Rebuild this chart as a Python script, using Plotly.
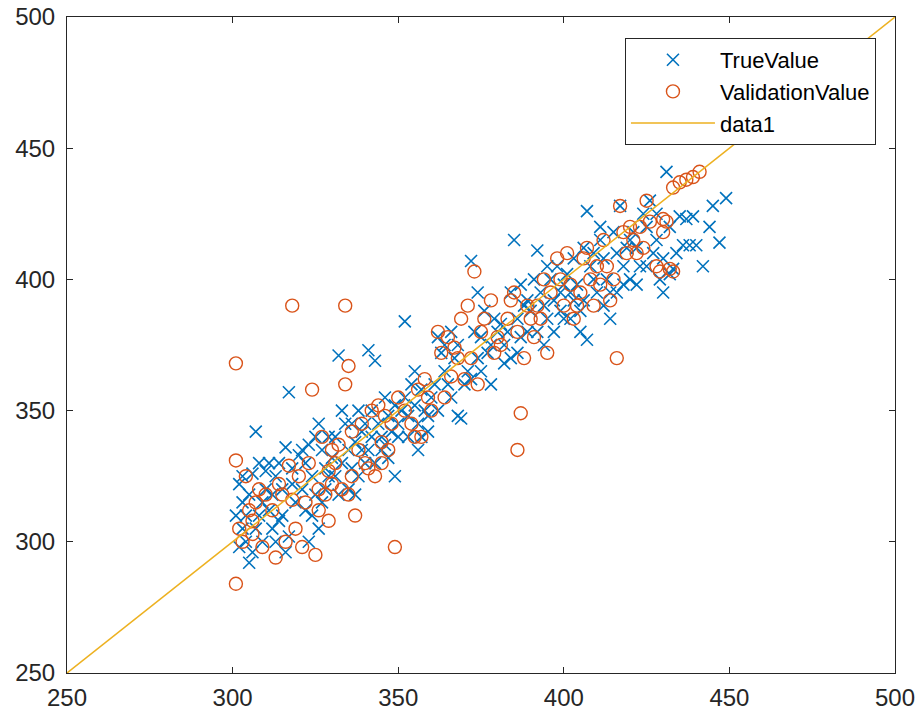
import plotly.graph_objects as go

# TrueValue (crosses)
true_x = [302,303,304,305,302,306,308,307,304,306,305,308,309,310,301,303,307,309,310,303,
          311,312,313,314,315,316,317,312,315,318,319,313,316,317,318,320,311,314,
          321,322,323,324,325,326,327,328,329,322,324,326,328,330,321,325,327,329,323,
          331,332,333,334,335,336,337,338,339,340,331,333,335,337,339,340,332,336,338,
          341,343,342,344,345,346,347,348,349,350,341,343,345,347,349,350,342,346,
          352,351,352,353,354,355,356,357,358,359,360,353,355,357,359,356,
          361,362,363,364,365,366,367,368,369,370,362,364,366,368,
          371,372,373,374,375,376,377,378,379,380,372,375,378,374,
          381,382,383,384,385,386,387,388,389,390,384,386,389,382,387,
          391,392,393,394,395,396,397,398,399,400,392,394,397,399,395,400,
          401,402,403,404,405,406,407,408,409,410,402,405,407,409,403,406,
          411,412,413,414,415,416,417,418,419,420,412,414,416,418,411,420,
          421,422,423,424,425,426,427,428,429,430,422,425,428,430,
          431,432,433,434,435,436,437,438,439,440,445,447,449,442,444,432]
true_y = [298,305,310,318,322,326,330,342,300,296,292,310,315,320,310,315,305,300,327,325,
          312,318,325,330,320,336,357,305,310,328,315,300,296,302,322,333,330,308,
          320,330,337,325,318,345,335,328,340,312,310,305,320,332,335,340,315,325,300,
          340,371,350,345,335,328,338,350,342,345,325,330,320,318,335,330,318,345,325,
          373,369,350,345,340,355,348,342,352,345,335,330,335,332,325,340,340,337,
          384,350,355,348,360,352,345,340,350,342,355,340,365,358,348,335,
          360,378,372,365,360,355,370,348,347,360,350,375,380,375,
          365,407,380,370,378,388,372,375,385,380,362,365,360,395,
          383,375,380,395,415,385,378,390,392,388,370,372,380,368,398,
          400,411,395,390,385,400,392,405,388,398,380,375,380,395,405,385,
          402,395,408,398,388,412,426,405,400,395,385,380,377,410,392,392,
          415,408,400,395,418,410,428,405,412,400,390,385,395,398,420,415,
          418,412,405,425,420,430,410,415,400,395,398,405,425,408,
          441,420,404,410,424,413,423,413,424,413,428,414,431,405,420,402]

# ValidationValue (circles)
val_x = [301,301,302,301,303,305,306,307,308,304,309,310,306,
         318,313,316,319,318,312,315,317,320,321,314,
         325,324,323,326,328,329,330,327,322,329,330,326,
         334,335,334,331,333,335,336,338,339,340,337,332,336,
         349,341,343,345,346,347,348,350,342,344,345,
         352,354,355,356,358,359,360,357,
         362,363,365,366,368,369,370,364,367,
         373,372,374,376,378,380,375,379,371,
         385,387,386,383,384,388,389,390,381,386,
         392,393,394,396,398,399,400,391,395,
         401,402,404,405,406,407,408,410,403,409,
         412,413,414,416,417,418,419,420,415,411,
         421,422,423,425,426,428,429,430,424,
         431,432,433,435,437,439,441,433,430]
val_y = [368,331,305,284,300,312,303,315,320,325,298,318,308,
         390,294,300,305,316,312,318,329,325,298,322,
         295,358,330,320,318,327,335,340,315,308,322,312,
         390,367,360,330,320,318,325,335,345,330,310,337,342,
         298,328,325,338,348,335,345,355,350,352,330,
         350,345,340,358,362,355,350,340,
         380,372,378,363,370,385,362,355,374,
         403,370,360,385,392,378,380,372,390,
         395,349,335,385,392,370,390,385,375,380,
         390,385,400,395,408,400,390,378,372,
         410,398,390,395,408,412,400,405,385,390,
         415,405,392,370,428,418,410,420,400,398,
         415,410,420,430,422,405,403,418,412,
         422,404,435,437,438,439,441,403,423]

line_x = [250, 500]
line_y = [250, 500]

x_ticks = [250, 300, 350, 400, 450, 500]
y_ticks = [250, 300, 350, 400, 450, 500]

FONT = "Liberation Sans, Arial, sans-serif"

fig = go.Figure()
fig.add_trace(go.Scatter(
    x=true_x, y=true_y, mode="markers", name="TrueValue",
    marker=dict(symbol="x-thin-open", size=12, color="#0072BD",
                line=dict(color="#0072BD", width=1.6))))
fig.add_trace(go.Scatter(
    x=val_x, y=val_y, mode="markers", name="ValidationValue",
    marker=dict(symbol="circle-open", size=13, color="#D95319",
                line=dict(color="#D95319", width=1.4))))
fig.add_trace(go.Scatter(
    x=line_x, y=line_y, mode="lines", name="data1",
    line=dict(color="#EDB120", width=1.5)))

axis_common = dict(
    showgrid=False, zeroline=False, showline=True, linecolor="#262626", linewidth=1,
    mirror="ticks", ticks="inside", ticklen=6, tickcolor="#262626", tickwidth=1,
    automargin=False,
    tickfont=dict(family=FONT, size=24, color="#262626"),
)
fig.update_xaxes(range=[250, 500], tickvals=x_ticks, ticktext=[str(v) for v in x_ticks],
                 ticklabelstandoff=3, **axis_common)
fig.update_yaxes(range=[250, 500], tickvals=y_ticks, ticktext=[str(v) for v in y_ticks],
                 ticklabelstandoff=6, **axis_common)

fig.update_layout(
    width=921, height=717,
    margin=dict(l=67, r=26, t=17, b=44),
    plot_bgcolor="white", paper_bgcolor="white",
    legend=dict(x=0.977, y=0.968, xanchor="right", yanchor="top",
                bgcolor="white", bordercolor="#262626", borderwidth=1,
                font=dict(family=FONT, size=22, color="#000000"),
                tracegroupgap=0, itemwidth=84),
    showlegend=True,
)

fig.write_html("out.html",
               config={"displayModeBar": False},
               post_script="document.body.style.margin='0';document.body.style.padding='0';")
